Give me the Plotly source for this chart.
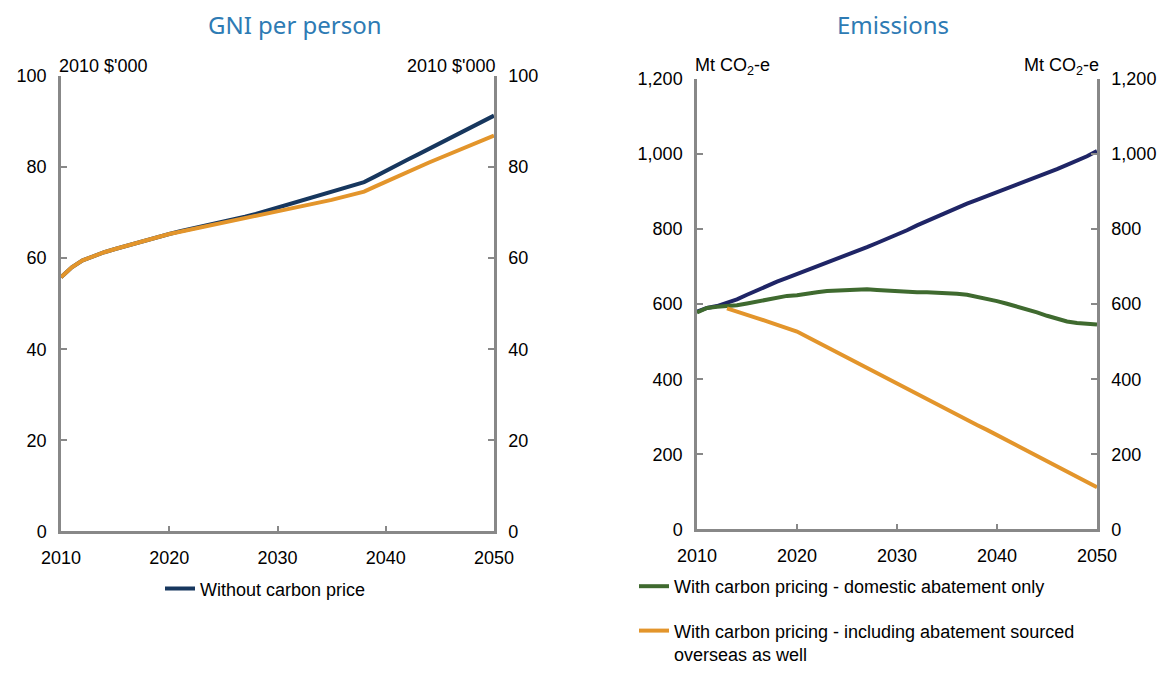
import plotly.graph_objects as go

years = list(range(2010, 2051))

# GNI per person, 2010 $'000
gni_no_price = [55.8, 58.0, 59.5, 60.5, 61.3, 62.0, 62.7, 63.4, 64.1, 64.7,
                65.3, 65.9, 66.4, 66.9, 67.5, 68.0, 68.6, 69.1, 69.7, 70.4,
                71.0, 71.7, 72.4, 73.1, 73.8, 74.5, 75.2, 75.9, 76.7, 77.9,
                79.2, 80.4, 81.6, 82.8, 84.0, 85.3, 86.5, 87.7, 88.9, 90.1, 91.3]
gni_price = [55.8, 58.0, 59.5, 60.5, 61.3, 62.0, 62.7, 63.4, 64.1, 64.7,
             65.3, 65.8, 66.3, 66.8, 67.3, 67.8, 68.2, 68.6, 69.1, 69.6,
             70.1, 70.6, 71.1, 71.6, 72.2, 72.8, 73.4, 74.0, 74.6, 75.7,
             76.8, 77.8, 78.9, 79.9, 81.0, 82.0, 83.0, 84.0, 85.0, 86.0, 86.9]

# Emissions, Mt CO2-e
em_no_price = [580, 590, 595, 603, 613, 625, 637, 648, 660, 670,
               680, 690, 700, 710, 720, 730, 741, 752, 763, 774,
               785, 797, 810, 822, 834, 845, 857, 868, 878, 888,
               898, 908, 919, 930, 940, 950, 960, 971, 982, 994, 1008]
em_domestic = [578, 590, 593, 594, 597, 602, 607, 612, 618, 622,
               624, 629, 632, 635, 636, 638, 639, 640, 638, 636,
               634, 633, 632, 632, 631, 630, 628, 625, 620, 614,
               608, 601, 594, 586, 578, 569, 561, 554, 550, 548, 546]
em_overseas = [None, None, None, 589, 581, 572, 563, 554, 545, 536,
               527, 513, 499, 486, 472, 458, 444, 430, 416, 403,
               389, 375, 361, 347, 334, 320, 306, 292, 278, 265,
               251, 237, 223, 209, 195, 182, 168, 154, 140, 126, 112]

navy = '#17375E'
indigo = '#1F2566'
orange = '#E3952B'
green = '#3F6A2F'
grey = '#888888'
font = 'Liberation Sans, Arial, sans-serif'

W, H = 1170, 673
VS = 0.977  # page comes out a bit taller than the window and gets squeezed


def yp(py):
    return 1 - py / VS / H


fig = go.Figure()
fig.add_trace(go.Scatter(x=years, y=gni_no_price, mode='lines', line=dict(color=navy, width=4),
                         name='Without carbon price', legend='legend', xaxis='x', yaxis='y'))
fig.add_trace(go.Scatter(x=years, y=gni_price, mode='lines', line=dict(color=orange, width=4),
                         showlegend=False, xaxis='x', yaxis='y2'))
fig.add_trace(go.Scatter(x=years, y=em_no_price, mode='lines', line=dict(color=indigo, width=4),
                         showlegend=False, xaxis='x2', yaxis='y3'))
fig.add_trace(go.Scatter(x=years, y=em_domestic, mode='lines', line=dict(color=green, width=4),
                         name='With carbon pricing - domestic abatement only',
                         legend='legend2', legendgroup='g', xaxis='x2', yaxis='y4'))
fig.add_trace(go.Scatter(x=years, y=em_overseas, mode='lines', line=dict(color=orange, width=4),
                         name='With carbon pricing - including abatement sourced<br>overseas as well',
                         legend='legend2', legendgroup='o', xaxis='x2', yaxis='y4'))

axis_style = dict(showline=True, linecolor=grey, linewidth=2.5, ticks='inside', tickcolor=grey,
                  tickwidth=2, ticklen=6, showgrid=False, zeroline=False, automargin=False,
                  tickfont=dict(size=18, color='#000000'), ticklabelstandoff=8)

# plot areas, from pixel positions in the reference
left_x = [61 / W, 494 / W]
left_y = [yp(545), yp(78)]
right_x = [697 / W, 1097 / W]
right_y = [yp(543), yp(81)]

fig.update_layout(
    width=W, height=H,
    margin=dict(l=0, r=0, t=0, b=0),
    paper_bgcolor='white', plot_bgcolor='white',
    font=dict(family=font, size=18, color='#000000'),
    xaxis=dict(domain=left_x, range=[2010, 2050], tickvals=[2010, 2020, 2030, 2040, 2050],
               anchor='y', **axis_style),
    yaxis=dict(domain=left_y, range=[0, 100], dtick=20, anchor='x', side='left', **axis_style),
    yaxis2=dict(domain=left_y, range=[0, 100], dtick=20, anchor='x', side='right',
                overlaying='y', **axis_style),
    xaxis2=dict(domain=right_x, range=[2010, 2050], tickvals=[2010, 2020, 2030, 2040, 2050],
                anchor='y3', **axis_style),
    yaxis3=dict(domain=right_y, range=[0, 1200], dtick=200, tickformat=',d', anchor='x2',
                side='left', **axis_style),
    yaxis4=dict(domain=right_y, range=[0, 1200], dtick=200, tickformat=',d', anchor='x2',
                side='right', overlaying='y3', **axis_style),
    legend=dict(x=160 / W, y=yp(604), xanchor='left', yanchor='middle', bgcolor='rgba(0,0,0,0)',
                font=dict(size=18)),
    legend2=dict(x=634 / W, y=yp(583), xanchor='left', yanchor='top', bgcolor='rgba(0,0,0,0)',
                 font=dict(size=18), tracegroupgap=18, valign='top'),
)

title_font = dict(family='Noto Sans, sans-serif', size=24, color='#2E7BB4')
fig.add_annotation(text='GNI per person', x=295 / W, y=yp(25), xref='paper', yref='paper',
                   showarrow=False, font=title_font, xanchor='center', yanchor='middle')
fig.add_annotation(text='Emissions', x=893 / W, y=yp(25), xref='paper', yref='paper',
                   showarrow=False, font=title_font, xanchor='center', yanchor='middle')

units = [("2010 $'000", left_x[0], 'left'), ("2010 $'000", left_x[1], 'right'),
         ('Mt CO<sub>2</sub>-e', right_x[0], 'left'), ('Mt CO<sub>2</sub>-e', right_x[1], 'right')]
for txt, xp, anc in units:
    xs = -4 if anc == 'left' else 4
    fig.add_annotation(text=txt, x=xp, y=yp(68), xref='paper', yref='paper', showarrow=False,
                       xanchor=anc, yanchor='middle', xshift=xs, font=dict(size=18))

fig.write_html("out.html", config={'displayModeBar': False},
               post_script="document.body.style.margin='0';")
